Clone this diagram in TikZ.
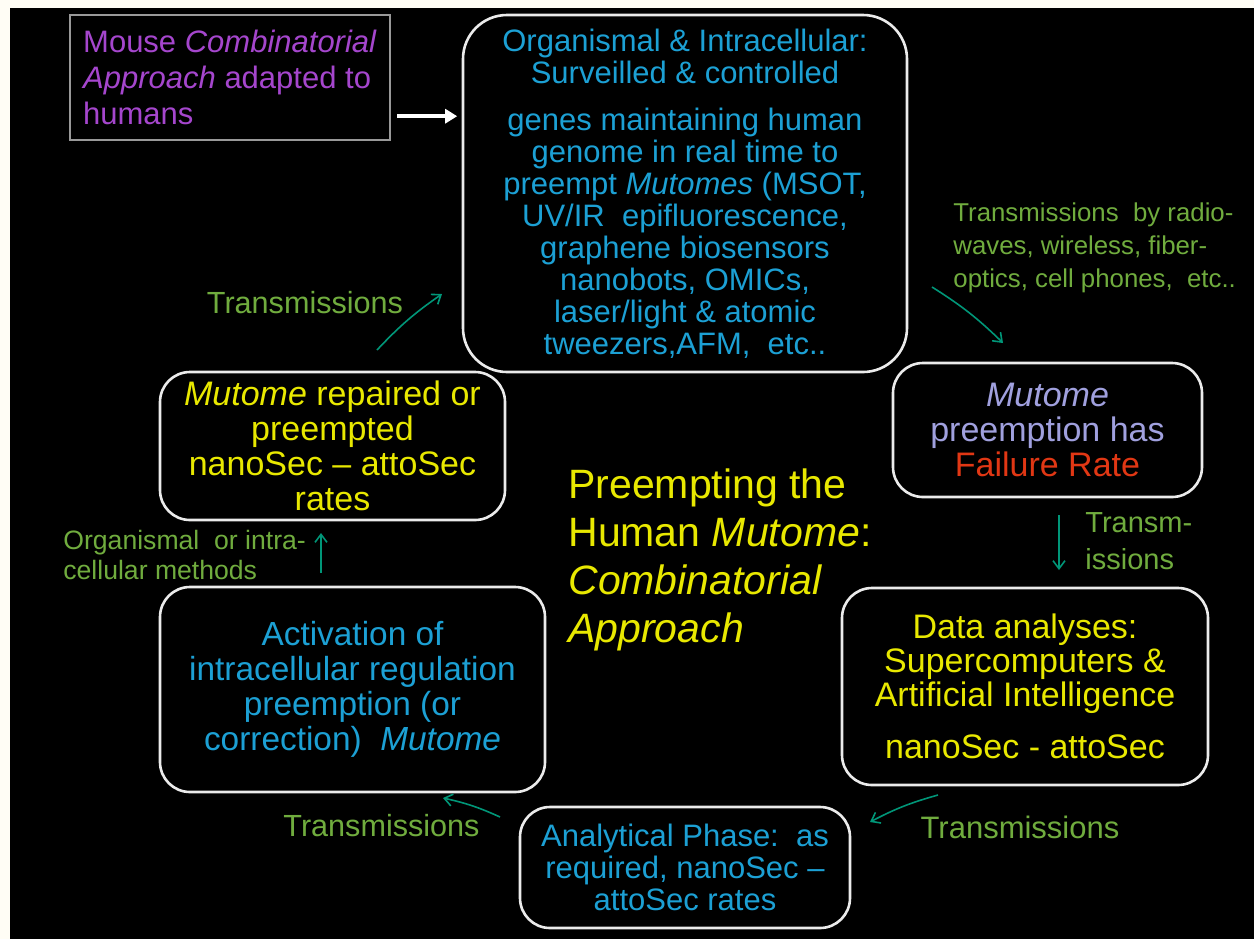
\documentclass[tikz,border=0pt]{standalone}
\usepackage{fontspec}
\setmainfont{Liberation Sans}
\usetikzlibrary{arrows.meta}
\definecolor{cyantext}{RGB}{28,160,212}
\definecolor{yeltext}{RGB}{232,232,0}
\definecolor{grntext}{RGB}{112,172,62}
\definecolor{tealarrow}{RGB}{0,150,120}
\definecolor{purtext}{RGB}{165,70,205}
\definecolor{lavtext}{RGB}{160,160,222}
\definecolor{redtext}{RGB}{225,55,20}
\definecolor{cream}{RGB}{255,253,245}
\newcommand{\fsz}[2]{\fontsize{#1}{#2}\selectfont}
\tikzset{
  rbox/.style={draw=white!92!black, line width=1.3pt, rounded corners=15pt, fill=black, align=center, inner sep=0pt},
  lbl/.style={text=grntext, inner sep=0pt, align=left},
  tarrow/.style={draw=tealarrow, line width=0.8pt, -{Straight Barb[length=4pt,width=6pt]}},
}
\begin{document}
\begin{tikzpicture}[x=0.5pt,y=-0.5pt]
\useasboundingbox (0,0) rectangle (1254,939);
\fill[cream] (0,0) rectangle (1254,939);
\fill[black] (10,8) rectangle (1254,939);

% boxes
\node[draw=white!60!black, line width=1.2pt, fill=black, minimum width=160pt, minimum height=62.5pt,
      align=left, inner sep=0pt, text=purtext, font=\fsz{15.5}{18}] (mouse) at (230,77.5)
  {Mouse \textit{Combinatorial}\\ \textit{Approach} adapted to\\ humans};

\node[rbox, rounded corners=22pt, minimum width=222pt, minimum height=178.5pt, text=cyantext, font=\fsz{15.5}{16}] (top) at (685,193.5)
  {Organismal \& Intracellular:\\ Surveilled \& controlled\\[7.5pt]
   genes maintaining human\\ genome in real time to\\ preempt \textit{Mutomes} (MSOT,\\
   UV/IR\ \ epifluorescence,\\ graphene biosensors\\ nanobots, OMICs,\\
   laser/light \& atomic\\ tweezers,AFM,\ \ etc..};

\node[rbox, minimum width=154.5pt, minimum height=67pt, font=\fsz{17}{17.5}] (fail) at (1047.5,430)
  {\textcolor{lavtext}{\textit{Mutome}}\\ \textcolor{lavtext}{preemption has}\\ \textcolor{redtext}{Failure Rate}};

\node[rbox, minimum width=183pt, minimum height=98.5pt, text=yeltext, font=\fsz{17}{17}] (data) at (1025,686.5)
  {Data analyses:\\ Supercomputers \&\\ Artificial Intelligence\\[9pt] nanoSec - attoSec};

\node[rbox, minimum width=165pt, minimum height=60.5pt, text=cyantext, font=\fsz{15.5}{16}] (anal) at (685,867.5)
  {Analytical Phase:\ \ as\\ required, nanoSec --\\ attoSec rates};

\node[rbox, minimum width=192.5pt, minimum height=102.5pt, text=cyantext, font=\fsz{16.7}{17.5}] (act) at (352.5,689.5)
  {Activation of\\ intracellular regulation\\ preemption (or\\ correction)\ \ \textit{Mutome}};

\node[rbox, minimum width=172.5pt, minimum height=74pt, text=yeltext, font=\fsz{17}{17.5}] (rep) at (332.5,446)
  {\textit{Mutome} repaired or\\ preempted\\ nanoSec -- attoSec\\ rates};

% title
\node[inner sep=0pt, anchor=west, align=left, text=yeltext, font=\fsz{20.5}{24}] (title) at (568,560)
  {Preempting the\\ Human \textit{Mutome}:\\ \textit{Combinatorial}\\ \textit{Approach}};

% labels
\node[lbl, font=\fsz{15.3}{17}] (t1) at (305,303) {Transmissions};
\node[lbl, anchor=west, font=\fsz{12.9}{16.5}] (t2) at (953,248)
  {Transmissions\ \ by radio-\\ waves, wireless, fiber-\\ optics, cell phones,\ \ etc..};
\node[lbl, anchor=west, font=\fsz{14.5}{18.5}] (t3) at (1085,541.5) {Transm-\\ issions};
\node[lbl, font=\fsz{15.5}{17}] (t4) at (1020,827) {Transmissions};
\node[lbl, font=\fsz{15.3}{17}] (t5) at (381.5,826) {Transmissions};
\node[lbl, anchor=west, font=\fsz{13.3}{15}] (t6) at (63,555) {Organismal\ \ or intra-\\ cellular methods};

% white arrow
\draw[white, line width=2pt, -{Triangle[length=6pt,width=7pt]}]
  ([shift={(3pt,12.5pt)}]mouse.south east) -- ++(60,0);

% teal arrows
\coordinate (a1s) at (377,350); \coordinate (a1e) at (442,294);
\coordinate (a2s) at (932,287); \coordinate (a2e) at (1003,343);
\coordinate (a3s) at (1059,515); \coordinate (a3e) at (1059,570);
\coordinate (a4s) at (938,795); \coordinate (a4e) at (870,822);
\coordinate (a5s) at (500,817); \coordinate (a5e) at (443,798);
\coordinate (a6s) at (321,573); \coordinate (a6e) at (321,533);
\draw[tarrow] (a1s) to[bend left=6] (a1e);
\draw[tarrow] (a2s) to[bend left=6] (a2e);
\draw[tarrow] (a3s) -- (a3e);
\draw[tarrow] (a4s) to[bend right=6] (a4e);
\draw[tarrow] (a5s) to[bend right=6] (a5e);
\draw[tarrow] (a6s) -- (a6e);
\end{tikzpicture}
\end{document}
